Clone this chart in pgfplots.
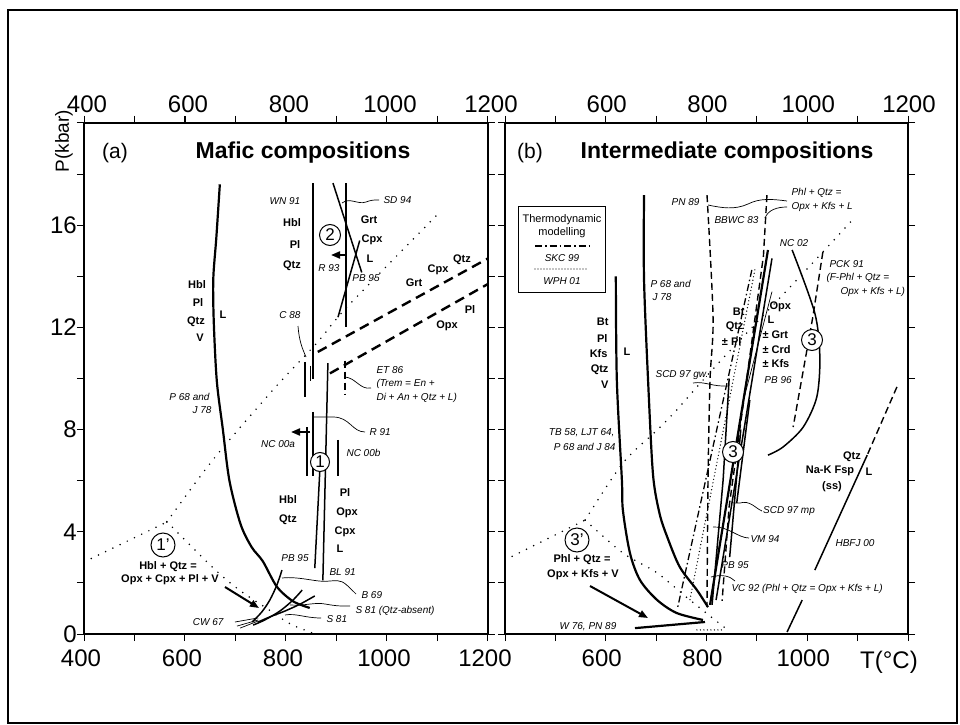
\documentclass[border=0pt]{standalone}
\usepackage{fontspec}
\setmainfont{Liberation Sans}
\usepackage{pgfplots}
\pgfplotsset{compat=1.18}
\usetikzlibrary{arrows.meta}

\newcommand\lbl{\fontsize{11}{12}\selectfont\bfseries}
\newcommand\lit{\fontsize{10}{11}\selectfont\itshape}

\tikzset{
  heavy/.style={line width=2.2pt},
  medium/.style={line width=1.5pt},
  fine/.style={line width=0.7pt},
  dots/.style={line width=1.7pt, dash pattern=on 0pt off 8pt, line cap=round},
  densedots/.style={line width=1.4pt, dash pattern=on 0pt off 3.5pt, line cap=round},
  longdash/.style={line width=2.4pt, dash pattern=on 10pt off 6pt},
  thindash/.style={line width=1.4pt, dash pattern=on 7pt off 4pt},
  dashdot/.style={line width=1.3pt, dash pattern=on 7pt off 3pt on 1.5pt off 3pt},
  num/.style={draw, circle, line width=1pt, inner sep=0pt, minimum size=21pt, font=\fontsize{17}{17}\selectfont},
  lead/.style={line width=0.7pt},
  arr/.style={line width=2pt, -{Triangle[length=9pt,width=7pt]}},
}

\pgfplotsset{
  phase/.style={
    scale only axis, width=404pt, height=511pt,
    xmin=400, xmax=1200, ymin=0, ymax=20,
    xtick={400,500,...,1200}, ytick={0,2,...,20},
    tick align=outside, major tick length=7pt,
    axis line style={line width=1.2pt},
    every tick/.style={line width=1pt, black},
    tick label style={font=\fontsize{24}{24}\selectfont, inner sep=0pt},
  }
}

\begin{document}
\begin{tikzpicture}
\path[use as bounding box] (0pt,0pt) rectangle (960pt,724pt);
\draw[line width=1.6pt] (8pt,1pt) rectangle (957pt,714pt);

% ---------------- (a) mafic compositions ----------------
\begin{axis}[phase, at={(84pt,90pt)}, anchor=south west,
  xtick pos=both, ytick pos=both, xticklabel pos=lower, yticklabel pos=left,
  xticklabels={400,,600,,800,,1000,,1200},
  yticklabels={0,,4,,8,,12,,16,,},
  xticklabel style={yshift=-9pt, xshift=-3pt},
  yticklabel style={xshift=0pt}]
% hydrous solidus (P 68 and J 78)
\addplot[heavy, smooth] coordinates {(669,17.6)(662,15.5)(656,13.9)(657,12.2)(663,9.9)(675,8.0)(688,6.0)(710,4.3)(732,3.4)(754,2.85)(782,1.85)(814,1.28)(847,1.02)};
% high-pressure brackets
\addplot[medium] coordinates {(853,17.65)(853,10.0)};
\addplot[medium] coordinates {(919,17.65)(919,12.0)};
\addplot[medium] coordinates {(893,17.65)(950,14.15)};
\addplot[medium] coordinates {(946,15.4)(903,12.4)};
% garnet-in / plagioclase-out
\addplot[longdash] coordinates {(863,11.04)(1200,14.7)};
\addplot[longdash] coordinates {(887,10.2)(1200,13.7)};
\addplot[thindash] coordinates {(917,10.7)(917,9.35)};
% C 88
\addplot[medium] coordinates {(838,10.65)(838,9.28)};
\addplot[medium] coordinates {(849,10.5)(849,9.9)};
% BL 91, PB 95
\addplot[medium] coordinates {(883,10.6)(873,2.1)};
\addplot[medium] coordinates {(867,6.4)(857,2.58)};
% R 91, NC 00a, NC 00b
\addplot[medium] coordinates {(853,8.69)(853,6.2)};
\addplot[medium] coordinates {(842,8.1)(842,6.2)};
\addplot[medium] coordinates {(903,7.6)(903,6.2)};
% dehydration-melting reaction (dotted)
\addplot[dots] coordinates {(400,2.82)(564,4.38)};
\addplot[dots, smooth] coordinates {(564,4.38)(655,6.81)(774,9.55)(861,11.39)(921,12.8)(1099,16.4)};
\addplot[dots, smooth] coordinates {(564,4.4)(655,2.6)(709,1.7)(762,1.0)(808,0.4)(851,0.05)};
% low-pressure experiments
\addplot[medium, smooth] coordinates {(792,2.5)(782,1.92)(768,1.33)(752,0.86)(733,0.47)};
\addplot[medium, smooth] coordinates {(832,1.72)(814,1.33)(788,0.90)(758,0.55)(735,0.35)};
\addplot[medium, smooth] coordinates {(857,1.49)(828,1.17)(798,0.90)(768,0.67)(745,0.47)};
\addplot[fine] coordinates {(699,0.47)(745,0.63)};
\addplot[fine] coordinates {(703,0.31)(745,0.55)};
\addplot[fine] coordinates {(709,0.23)(745,0.51)};
\end{axis}
\begin{axis}[phase, at={(84pt,90pt)}, anchor=south west,
  axis y line=none, axis x line*=top,
  xticklabels={400,,600,,800,,1000,,1200},
  xticklabel style={yshift=3pt, xshift=3pt}]
\end{axis}

% ---------------- (b) intermediate compositions ----------------
\begin{axis}[phase, at={(505pt,90pt)}, anchor=south west, width=403pt,
  xtick pos=both, ytick pos=both, xticklabel pos=lower,
  xticklabels={,,600,,800,,1000,,},
  yticklabels={},
  xticklabel style={yshift=-9pt, xshift=-4pt}]
% TB 58, LJT 64, P 68 and J 84
\addplot[heavy, smooth] coordinates {(620,14.0)(622,9.94)(632,6.03)(634,4.85)(648,3.17)(668,2.11)(702,1.33)(741,0.82)(793,0.55)};
% W 76, PN 89
\addplot[heavy] coordinates {(658,0.23)(797,0.47)};
% P 68 and J 78
\addplot[heavy, smooth] coordinates {(676,17.18)(676,13.86)(685,9.5)(694,6.2)(707,4.7)(722,3.80)(747,2.62)(781,1.72)(803,1.05)};
% PN 89 and BBWC 83
\addplot[thindash, smooth] coordinates {(801,17.18)(813,12.4)(807,9.94)(803,6.03)(801,1.06)};
\addplot[thindash] coordinates {(920,17.18)(913,14.8)(880,10)(845,5)(831,1.3)};
% bundle of experimental and modelled curves
\addplot[heavy] coordinates {(922,15.03)(807,1.14)};
\addplot[medium] coordinates {(930,14.7)(819,1.33)};
\addplot[dashdot] coordinates {(890,14.25)(743,1.06)};
\addplot[densedots] coordinates {(896,14.25)(767,1.33)};
\addplot[fine] coordinates {(930,13.4)(876,9.35)};
\addplot[medium] coordinates {(886,9.16)(860,5.13)};
\addplot[medium] coordinates {(868,8.0)(846,3.01)};
\addplot[medium] coordinates {(845,10.0)(833,6.03)(811,1.14)};
% NC 02 and PCK 91
\addplot[medium, smooth] coordinates {(970,15.03)(1015,12.56)(1025,10.84)(1019,9.28)(992,8.1)(952,7.32)(922,7.0)};
\addplot[thindash] coordinates {(1031,14.95)(1011,12.4)(972,8.1)};
% HBFJ 00
\addplot[thindash] coordinates {(1178,9.67)(1119,7.0)};
\addplot[medium] coordinates {(1119,7.0)(1015,2.5)};
\addplot[medium] coordinates {(990,1.33)(960,0.08)};
% dehydration-melting reaction (dotted)
\addplot[dots] coordinates {(400,2.9)(559,4.46)};
\addplot[dots, smooth] coordinates {(559,4.46)(634,6.69)(702,7.98)(741,8.77)(781,9.67)(833,10.8)(966,13.58)(1029,14.91)(1095,16.32)};
\addplot[dots, smooth] coordinates {(559,4.46)(634,3.17)(702,2.39)(767,1.33)(847,0.08)};
\addplot[densedots] coordinates {(781,0.16)(833,0.16)};
\end{axis}
\begin{axis}[phase, at={(505pt,90pt)}, anchor=south west, width=403pt,
  axis y line=none, axis x line*=top,
  xticklabels={,,600,,800,,1000,,1200},
  xticklabel style={yshift=3pt, xshift=1pt}]
\end{axis}

% ---------------- annotations ----------------
\begin{scope}[x=1pt, y=1pt, shift={(0pt,724pt)}, yscale=-1]
\node[rotate=90, font=\fontsize{19}{19}\selectfont] at (64,141) {P(kbar)};
\node[font=\fontsize{24}{24}\selectfont] at (889,662) {T(°C)};
\node[font=\fontsize{21}{21}\selectfont] at (115,153) {(a)};
\node[font=\fontsize{23}{23}\selectfont\bfseries] at (303,153) {Mafic compositions};
\node[font=\fontsize{21}{21}\selectfont] at (530,153) {(b)};
\node[font=\fontsize{23}{23}\selectfont\bfseries] at (727,153) {Intermediate compositions};

% panel (a)
\node[font=\lit] at (285,201) {WN 91};
\node[font=\lbl] at (292,223) {Hbl};
\node[font=\lbl] at (295,245) {Pl};
\node[font=\lbl] at (292,266) {Qtz};
\node[num] at (330,235) {2};
\node[font=\lit] at (329,268) {R 93};
\draw[arr] (346,255) -- (331,255);
\node[font=\lit, anchor=west] at (380,200) {SD 94};
\draw[lead] (342,203) .. controls (350,197) and (358,205) .. (366,202) .. controls (372,200) .. (379,200);
\node[font=\lbl] at (369,220) {Grt};
\node[font=\lbl] at (372,240) {Cpx};
\node[font=\lbl] at (370,259) {L};
\node[font=\lit] at (366,278) {PB 95};
\node[font=\lbl] at (462,260) {Qtz};
\node[font=\lbl] at (438,270) {Cpx};
\node[font=\lbl] at (414,283) {Grt};
\node[font=\lbl] at (470,310) {Pl};
\node[font=\lbl] at (447,326) {Opx};
\node[font=\lit] at (290,315) {C 88};
\draw[lead] (298,326) .. controls (299,340) and (302,348) .. (306,357);
\node[font=\lit, anchor=west] at (373,370) {ET 86};
\node[font=\lit, anchor=west] at (373,384) {(Trem = En +};
\node[font=\lit, anchor=west] at (373,398) {Di + An + Qtz + L)};
\draw[lead] (345,377) .. controls (356,378) and (360,390) .. (371,388);
\node[font=\lbl] at (197,285) {Hbl};
\node[font=\lbl] at (198,303) {Pl};
\node[font=\lbl] at (196,322) {Qtz};
\node[font=\lbl] at (200,338) {V};
\node[font=\lbl] at (223,315) {L};
\node[font=\lit, anchor=east] at (213,397) {P 68 and};
\node[font=\lit, anchor=east] at (215,410) {J 78};
\node[font=\lit, anchor=west] at (366,432) {R 91};
\draw[lead] (313,417) -- (333,417) .. controls (350,417) and (352,432) .. (365,432);
\node[font=\lit] at (278,444) {NC 00a};
\draw[arr] (310,432) -- (291,432);
\node[font=\lit, anchor=west] at (343,453) {NC 00b};
\node[num, minimum size=19pt, fill=white] at (320,462) {1};
\node[font=\lbl] at (288,500) {Hbl};
\node[font=\lbl] at (288,520) {Qtz};
\node[font=\lbl] at (345,493) {Pl};
\node[font=\lbl] at (347,513) {Opx};
\node[font=\lbl] at (345,532) {Cpx};
\node[font=\lbl] at (340,549) {L};
\node[font=\lit] at (295,558) {PB 95};
\node[font=\lit, anchor=west] at (326,572) {BL 91};
\node[font=\lit, anchor=west] at (358,595) {B 69};
\draw[lead] (282,578) .. controls (300,576) and (318,583) .. (330,581) .. controls (342,580) .. (356,594);
\node[font=\lit, anchor=west] at (352,611) {S 81 (Qtz-absent)};
\draw[lead] (290,605) .. controls (305,606) and (315,602) .. (325,604) .. controls (337,606) .. (350,606);
\node[font=\lit, anchor=west] at (323,619) {S 81};
\draw[lead] (285,615) .. controls (296,613) and (305,618) .. (321,618);
\node[font=\lit, anchor=east] at (227,622) {CW 67};
\node[num, minimum size=24pt] at (163,545) {1'};
\node[font=\lbl] at (168,567) {Hbl + Qtz =};
\node[font=\lbl] at (170,580) {Opx + Cpx + Pl + V};
\draw[arr] (225,587) -- (259,608);

% panel (b)
\draw[line width=0.9pt] (518,206) rectangle (605,292);
\node[font=\fontsize{11}{12}\selectfont] at (562,220) {Thermodynamic};
\node[font=\fontsize{11}{12}\selectfont] at (562,233) {modelling};
\draw[dashdot] (535,246) -- (589,246);
\node[font=\lit] at (562,258) {SKC 99};
\draw[line width=1.2pt, dash pattern=on 0pt off 3pt, line cap=round] (535,269) -- (588,269);
\node[font=\lit] at (562,281) {WPH 01};

\node[font=\lit, anchor=east] at (703,202) {PN 89};
\draw[lead] (708,205) .. controls (722,208) and (735,210) .. (748,204) .. controls (760,198) and (772,199) .. (787,201);
\node[font=\lit, anchor=east] at (762,220) {BBWC 83};
\draw[lead] (765,218) .. controls (768,210) and (777,207) .. (787,207);
\node[font=\lit, anchor=west] at (788,193) {Phl + Qtz =};
\node[font=\lit, anchor=west] at (788,207) {Opx + Kfs + L};
\node[font=\lit] at (794,243) {NC 02};
\node[font=\lit, anchor=west] at (826,264) {PCK 91};
\node[font=\lit, anchor=west] at (823,278) {(F-Phl + Qtz =};
\node[font=\lit, anchor=west] at (837,292) {Opx + Kfs + L)};
\node[font=\lit, anchor=west] at (647,284) {P 68 and};
\node[font=\lit, anchor=west] at (649,297) {J 78};
\node[font=\lbl, anchor=east] at (612,322) {Bt};
\node[font=\lbl, anchor=east] at (611,339) {Pl};
\node[font=\lbl, anchor=east] at (611,354) {Kfs};
\node[font=\lbl, anchor=east] at (612,370) {Qtz};
\node[font=\lbl, anchor=east] at (612,385) {V};
\node[font=\lbl] at (627,352) {L};
\node[font=\lit, anchor=east] at (618,433) {TB 58, LJT 64,};
\node[font=\lit, anchor=east] at (619,447) {P 68 and J 84};
\node[font=\lit] at (682,375) {SCD 97 gw.};
\draw[lead] (693,383) .. controls (705,381) and (712,387) .. (729,386);
\node[font=\lbl, anchor=east] at (748,312) {Bt};
\node[font=\lbl, anchor=east] at (747,327) {Qtz};
\node[font=\lbl, anchor=east] at (745,342) {± Pl};
\node[font=\lbl, anchor=west] at (766,307) {Opx};
\node[font=\lbl, anchor=west] at (764,320) {L};
\node[font=\lbl, anchor=west] at (759,335) {± Grt};
\node[font=\lbl, anchor=west] at (759,350) {± Crd};
\node[font=\lbl, anchor=west] at (759,364) {± Kfs};
\node[font=\lit] at (778,380) {PB 96};
\node[num, fill=white] at (812,340) {3};
\node[num, fill=white] at (733,452) {3};
\node[font=\lbl] at (852,457) {Qtz};
\node[font=\lbl] at (830,471) {Na-K Fsp};
\node[font=\lbl] at (869,472) {L};
\node[font=\lbl] at (832,487) {(ss)};
\node[font=\lit] at (789,511) {SCD 97 mp};
\draw[lead] (733,503) -- (740,503) .. controls (750,500) and (755,508) .. (762,511);
\node[font=\lit] at (765,539) {VM 94};
\draw[lead] (713,527) .. controls (728,526) and (738,538) .. (749,538);
\node[font=\lit] at (735,565) {PB 95};
\node[font=\lit, anchor=west] at (728,589) {VC 92 (Phl + Qtz = Opx + Kfs + L)};
\draw[lead] (711,577) .. controls (722,574) and (730,576) .. (735,581);
\node[font=\lit] at (855,543) {HBFJ 00};
\node[num, minimum size=24pt] at (577,540) {3'};
\node[font=\lbl] at (582,560) {Phl + Qtz =};
\node[font=\lbl] at (583,575) {Opx + Kfs + V};
\draw[arr] (590,586) -- (648,618);
\node[font=\lit] at (588,627) {W 76, PN 89};
\end{scope}
\end{tikzpicture}
\end{document}
